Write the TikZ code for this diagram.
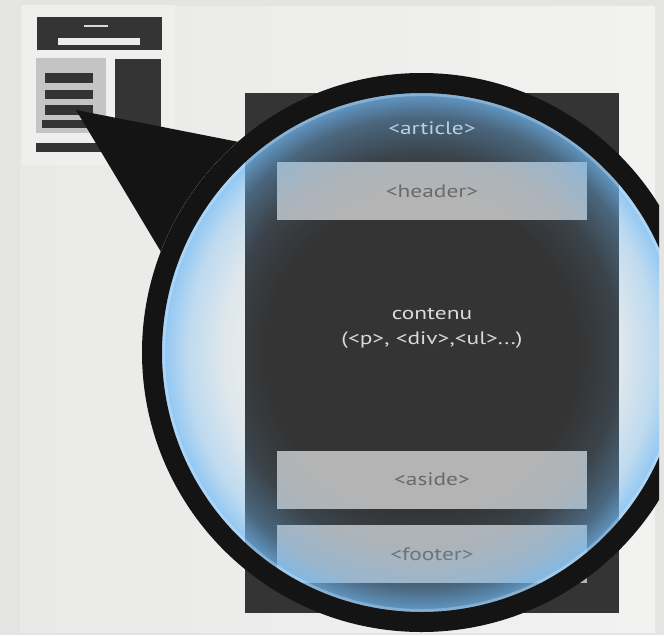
\documentclass[tikz,border=0pt]{standalone}
\usepackage{fontspec}
\setmainfont{PT Sans}
\newfontfamily\lensfont[FakeStretch=1.3]{PT Sans}
\usetikzlibrary{positioning,fadings}

\definecolor{bggrey}{RGB}{228,228,226}
\definecolor{panelleft}{RGB}{233,233,231}
\definecolor{panelright}{RGB}{242,242,240}
\definecolor{thumbframe}{RGB}{239,239,237}
\definecolor{darkblock}{RGB}{52,52,52}
\definecolor{lightblock}{RGB}{180,180,180}
\definecolor{midblock}{RGB}{196,196,196}
\definecolor{boxtext}{RGB}{105,105,105}
\definecolor{lighttext}{RGB}{218,218,218}
\definecolor{glass}{RGB}{112,186,246}

\pgfdeclareradialshading{rimshade}{\pgfpointorigin}{color(0bp)=(pgftransparent!100); color(15bp)=(pgftransparent!100); color(19bp)=(pgftransparent!88); color(22.5bp)=(pgftransparent!62); color(25bp)=(pgftransparent!22); color(50bp)=(pgftransparent!22)}
\pgfdeclarefading{rim}{\pgfuseshading{rimshade}}

\begin{document}
\begin{tikzpicture}[x=1pt,y=-1pt]
	\tikzstyle{block}=[draw=none, rectangle, fill=lightblock, minimum width=310pt, minimum height=58pt, text=boxtext, font=\lensfont\fontsize{18}{20}\selectfont]
	\tikzstyle{label_txt}=[inner sep=0pt, text=lighttext, font=\lensfont\fontsize{18}{25}\selectfont]
	\tikzstyle{thumb}=[fill=darkblock]

	\useasboundingbox (0,0) rectangle (664,635);
	\fill[bggrey] (0,0) rectangle (664,635);
	\shade[left color=panelleft, right color=panelright] (20,6) rectangle (655,632);

	% small page
	\fill[thumbframe] (22,5) rectangle (175,165);
	\fill[thumb] (37,17) rectangle (162,50);
	\fill[white!85!gray] (58,38) rectangle (140,45);
	\fill[white!70!gray] (84,25) rectangle (108,26.5);
	\fill[midblock] (36,58) rectangle (106,133);
	\fill[thumb] (45,73) rectangle (93,83);
	\fill[thumb] (45,90) rectangle (93,99);
	\fill[thumb] (45,105) rectangle (93,115);
	\fill[thumb] (42,120) rectangle (95,128);
	\fill[thumb] (115,59) rectangle (161,132);
	\fill[thumb] (36,143) rectangle (161,152);

	\coordinate (lens) at (421.5,352.5);
	\coordinate (tip) at (76,110);

	\begin{scope}
	\clip (0,0) rectangle (659,635);
	\fill[black!92] (tip) -- (300,154) -- (200,317) -- cycle;
	\fill[panelright!60!panelleft] (lens) circle (279.5);

	\node[fill=darkblock, minimum width=374pt, minimum height=520pt, inner sep=0pt] (art) at (432,353) {};
	\node[label_txt] (title) [below=29pt of art.north] {<article>};
	\node[block] (header) [below=69pt of art.north] {<header>};
	\node[block] (footer) [above=30pt of art.south] {<footer>};
	\node[block] (aside) [above=16pt of footer] {<aside>};
	\node[label_txt, align=center] (content) at (432,328) {contenu\\(<p>, <div>,<ul>...)};

	% glass and rim
	\fill[glass, path fading=rim] (lens) circle (260);
	\draw[white, opacity=0.25, line width=3pt] (lens) circle (258);
	\draw[black!92, line width=20pt] (lens) circle (269.5);
	\end{scope}
\end{tikzpicture}
\end{document}
